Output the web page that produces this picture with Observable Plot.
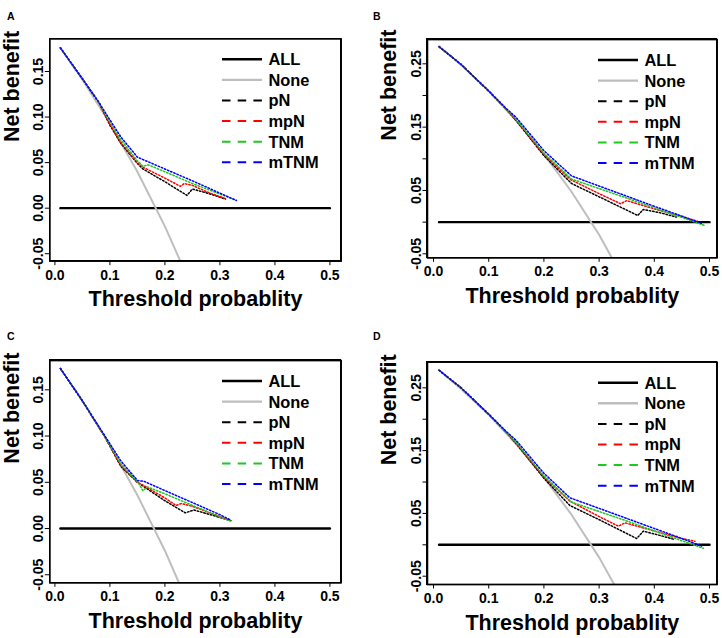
<!DOCTYPE html>
<html>
<head>
<meta charset="utf-8">
<script src="https://cdn.jsdelivr.net/npm/d3@7"></script>
<script src="https://cdn.jsdelivr.net/npm/@observablehq/plot@0.6"></script>
<style>
  body { margin: 0; background: #fff; }
  #wrap { position: relative; width: 722px; height: 638px; font-family: "Liberation Sans", Arial, sans-serif; }
  .panel { position: absolute; width: 361px; height: 319px; }
  .letter { position: absolute; font-weight: bold; font-size: 10.5px; line-height: 1; }
  .box { position: absolute; box-sizing: border-box; border: 1.3px solid #000; background: transparent; pointer-events: none; }
</style>
</head>
<body>
<div id="wrap"></div>
<script>
// ---------- shared ----------
const seriesNames = ["pN", "mpN", "TNM", "mTNM"];
const seriesColors = ["#000000", "#ff0000", "#1ec81e", "#0000ff"];
const legendNames = ["ALL", "None", "pN", "mpN", "TNM", "mTNM"];
const xTicks = [0, 0.1, 0.2, 0.3, 0.4, 0.5];
const xTickLabels = ["0.0", "0.1", "0.2", "0.3", "0.4", "0.5"];
const ALL_x = [0.01, 0.5];
const ALL_y = [0, 0];

// ---------- panel A ----------
const A_yTicks = [-0.05, 0, 0.05, 0.10, 0.15];
const A_yLabels = ["-0.05", "0.00", "0.05", "0.10", "0.15"];
const A_none_x = [0.01, 0.05, 0.10, 0.15, 0.20, 0.25];
const A_none_y = [0.176, 0.141, 0.093, 0.040, -0.020, -0.088];
const A_pN_x = [0.01, 0.05, 0.08, 0.10, 0.12, 0.15, 0.16, 0.20, 0.24, 0.25, 0.28, 0.31];
const A_pN_y = [0.176, 0.142, 0.116, 0.091, 0.071, 0.049, 0.043, 0.029, 0.014, 0.021, 0.016, 0.010];
const A_mpN_x = [0.01, 0.05, 0.08, 0.10, 0.12, 0.15, 0.16, 0.20, 0.228, 0.235, 0.25, 0.28, 0.31];
const A_mpN_y = [0.176, 0.142, 0.116, 0.092, 0.072, 0.050, 0.045, 0.033, 0.024, 0.027, 0.025, 0.017, 0.0105];
const A_TNM_x = [0.01, 0.05, 0.08, 0.10, 0.12, 0.15, 0.16, 0.17, 0.20, 0.25, 0.30, 0.33];
const A_TNM_y = [0.176, 0.142, 0.116, 0.095, 0.075, 0.052, 0.046, 0.0475, 0.040, 0.027, 0.0155, 0.0085];
const A_mTNM_x = [0.01, 0.05, 0.08, 0.10, 0.12, 0.15, 0.20, 0.25, 0.30, 0.33];
const A_mTNM_y = [0.176, 0.142, 0.116, 0.097, 0.078, 0.056, 0.043, 0.030, 0.0165, 0.0085];

// ---------- panel B ----------
const B_yTicks = [-0.05, 0, 0.05, 0.10, 0.15, 0.20, 0.25];
const B_yLabels = ["-0.05", "", "0.05", "", "0.15", "", "0.25"];
const B_none_x = [0.01, 0.05, 0.10, 0.15, 0.20, 0.25, 0.30, 0.35];
const B_none_y = [0.278, 0.248, 0.207, 0.160, 0.1075, 0.048, -0.020, -0.099];
const B_pN_x = [0.01, 0.05, 0.10, 0.13, 0.15, 0.20, 0.25, 0.30, 0.35, 0.37, 0.38, 0.41, 0.44];
const B_pN_y = [0.277, 0.249, 0.207, 0.180, 0.160, 0.105, 0.061, 0.040, 0.019, 0.0105, 0.020, 0.015, 0.008];
const B_mpN_x = [0.01, 0.05, 0.10, 0.13, 0.15, 0.20, 0.2485, 0.30, 0.339, 0.35, 0.40, 0.45, 0.478];
const B_mpN_y = [0.277, 0.249, 0.207, 0.180, 0.161, 0.107, 0.067, 0.045, 0.029, 0.034, 0.021, 0.0087, 0.0016];
const B_TNM_x = [0.01, 0.05, 0.10, 0.13, 0.15, 0.20, 0.25, 0.30, 0.35, 0.40, 0.45, 0.49];
const B_TNM_y = [0.277, 0.249, 0.207, 0.180, 0.162, 0.109, 0.068, 0.053, 0.038, 0.0225, 0.0075, -0.005];
const B_mTNM_x = [0.01, 0.05, 0.10, 0.13, 0.15, 0.20, 0.25, 0.30, 0.35, 0.40, 0.45, 0.485];
const B_mTNM_y = [0.277, 0.249, 0.207, 0.181, 0.165, 0.113, 0.073, 0.057, 0.041, 0.025, 0.0095, -0.002];

// ---------- panel C ----------
const C_yTicks = [-0.05, 0, 0.05, 0.10, 0.15];
const C_yLabels = ["-0.05", "0.00", "0.05", "0.10", "0.15"];
const C_none_x = [0.01, 0.05, 0.10, 0.15, 0.20, 0.25];
const C_none_y = [0.173, 0.138, 0.090, 0.036, -0.024, -0.092];
const C_pN_x = [0.01, 0.05, 0.09, 0.12, 0.15, 0.16, 0.20, 0.237, 0.253, 0.30, 0.32];
const C_pN_y = [0.173, 0.138, 0.100, 0.067, 0.050, 0.046, 0.030, 0.017, 0.020, 0.012, 0.0085];
const C_mpN_x = [0.01, 0.05, 0.09, 0.12, 0.15, 0.16, 0.20, 0.22, 0.23, 0.25, 0.30, 0.32];
const C_mpN_y = [0.173, 0.138, 0.100, 0.068, 0.050, 0.047, 0.033, 0.025, 0.027, 0.024, 0.013, 0.009];
const C_TNM_x = [0.01, 0.05, 0.09, 0.12, 0.15, 0.16, 0.168, 0.20, 0.25, 0.30, 0.32];
const C_TNM_y = [0.173, 0.138, 0.100, 0.070, 0.051, 0.041, 0.045, 0.0375, 0.025, 0.0125, 0.008];
const C_mTNM_x = [0.01, 0.05, 0.09, 0.12, 0.15, 0.162, 0.20, 0.25, 0.30, 0.32];
const C_mTNM_y = [0.173, 0.138, 0.101, 0.073, 0.052, 0.051, 0.041, 0.028, 0.015, 0.009];

// ---------- panel D ----------
const D_yTicks = [-0.05, 0, 0.05, 0.10, 0.15, 0.20, 0.25];
const D_yLabels = ["-0.05", "", "0.05", "", "0.15", "", "0.25"];
const D_none_x = [0.01, 0.05, 0.10, 0.15, 0.20, 0.25, 0.30, 0.35];
const D_none_y = [0.278, 0.248, 0.207, 0.160, 0.1075, 0.048, -0.020, -0.099];
const D_pN_x = [0.01, 0.05, 0.10, 0.13, 0.15, 0.20, 0.247, 0.30, 0.35, 0.368, 0.38, 0.41, 0.437];
const D_pN_y = [0.278, 0.250, 0.208, 0.181, 0.161, 0.106, 0.0626, 0.040, 0.018, 0.010, 0.0217, 0.015, 0.0084];
const D_mpN_x = [0.01, 0.05, 0.10, 0.13, 0.15, 0.20, 0.247, 0.30, 0.335, 0.347, 0.40, 0.45, 0.4735];
const D_mpN_y = [0.278, 0.250, 0.208, 0.181, 0.162, 0.108, 0.0696, 0.045, 0.0296, 0.035, 0.022, 0.010, 0.0057];
const D_TNM_x = [0.01, 0.05, 0.10, 0.13, 0.15, 0.20, 0.25, 0.30, 0.35, 0.40, 0.45, 0.4886];
const D_TNM_y = [0.278, 0.250, 0.208, 0.181, 0.163, 0.110, 0.068, 0.053, 0.038, 0.022, 0.0065, -0.0054];
const D_mTNM_x = [0.01, 0.05, 0.10, 0.13, 0.15, 0.20, 0.247, 0.30, 0.35, 0.40, 0.45, 0.4855];
const D_mTNM_y = [0.278, 0.250, 0.208, 0.182, 0.166, 0.114, 0.0749, 0.058, 0.042, 0.026, 0.010, -0.002];

// ---------- layout ----------
const panels = [
  {letter: "A", left: 0, top: 0, mL: 49.3, mR: 20.3, mT: 38.3, mB: 58.3,
   xd: [-0.0093, 0.5205], yd: [-0.0582, 0.1859], yTicks: A_yTicks, yLabels: A_yLabels,
   none: [A_none_x, A_none_y], series: [[A_pN_x, A_pN_y], [A_mpN_x, A_mpN_y], [A_TNM_x, A_TNM_y], [A_mTNM_x, A_mTNM_y]]},
  {letter: "B", left: 361, top: 0, mL: 66, mR: 5.3, mT: 39, mB: 61.7,
   xd: [-0.0109, 0.5139], yd: [-0.0563, 0.2884], yTicks: B_yTicks, yLabels: B_yLabels,
   none: [B_none_x, B_none_y], series: [[B_pN_x, B_pN_y], [B_mpN_x, B_mpN_y], [B_TNM_x, B_TNM_y], [B_mTNM_x, B_mTNM_y]]},
  {letter: "C", left: 0, top: 319, mL: 49.3, mR: 20.3, mT: 41, mB: 55.7,
   xd: [-0.0093, 0.5205], yd: [-0.0587, 0.1817], yTicks: C_yTicks, yLabels: C_yLabels,
   none: [C_none_x, C_none_y], series: [[C_pN_x, C_pN_y], [C_mpN_x, C_mpN_y], [C_TNM_x, C_TNM_y], [C_mTNM_x, C_mTNM_y]]},
  {letter: "D", left: 361, top: 319, mL: 66, mR: 5.3, mT: 42.7, mB: 54,
   xd: [-0.0109, 0.5139], yd: [-0.0632, 0.2908], yTicks: D_yTicks, yLabels: D_yLabels,
   none: [D_none_x, D_none_y], series: [[D_pN_x, D_pN_y], [D_mpN_x, D_mpN_y], [D_TNM_x, D_TNM_y], [D_mTNM_x, D_mTNM_y]]}
];

const W = 361, H = 319;
const toPts = (xs, ys) => xs.map((x, i) => ({x, y: ys[i]}));
const wrap = document.getElementById("wrap");

panels.forEach((p) => {
  const div = document.createElement("div");
  div.className = "panel";
  div.style.left = p.left + "px";
  div.style.top = p.top + "px";
  wrap.appendChild(div);

  const yLabelMap = new Map(p.yTicks.map((t, i) => [t.toFixed(2), p.yLabels[i]]));
  const xLabelMap = new Map(xTicks.map((t, i) => [t.toFixed(1), xTickLabels[i]]));
  const box = [
    {x: p.xd[0], y: p.yd[0]}, {x: p.xd[1], y: p.yd[0]}, {x: p.xd[1], y: p.yd[1]},
    {x: p.xd[0], y: p.yd[1]}, {x: p.xd[0], y: p.yd[0]}
  ];

  const chart = Plot.plot({
    width: W, height: H,
    marginLeft: p.mL, marginRight: p.mR, marginTop: p.mT, marginBottom: p.mB,
    x: {domain: p.xd},
    y: {domain: p.yd},
    style: {background: "transparent", color: "#000", fontFamily: "'Liberation Sans', Arial, sans-serif", overflow: "visible"},
    marks: [
      Plot.axisX({ticks: xTicks, tickSize: 4.5, tickPadding: 4,
        tickFormat: (d) => xLabelMap.get((+d).toFixed(1)), fontSize: 14, fontWeight: "bold", label: null}),
      Plot.axisY({ticks: p.yTicks, tickSize: 4.5, tickPadding: 2, tickRotate: -90,
        tickFormat: (d) => yLabelMap.get((+d).toFixed(2)), fontSize: 14, fontWeight: "bold", label: null}),
      Plot.line(toPts(ALL_x, ALL_y), {x: "x", y: "y", stroke: "#000", strokeWidth: 2.4}),
      Plot.line(toPts(p.none[0], p.none[1]), {x: "x", y: "y", stroke: "#bebebe", strokeWidth: 2, clip: true}),
      ...p.series.map(([xs, ys], i) =>
        Plot.line(toPts(xs, ys), {x: "x", y: "y", stroke: seriesColors[i], strokeWidth: 1.5,
          strokeDasharray: "1.5,1.9", clip: true})),
      Plot.line(box, {x: "x", y: "y", stroke: "#000", strokeWidth: 1.3, strokeLinejoin: "miter", strokeLinecap: "square"}),
      Plot.frame({stroke: "#000", strokeWidth: 1.3}),
      Plot.text(["Net benefit"], {frameAnchor: "left", rotate: -90, dx: -38, dy: -8,
        fontSize: 21.5, fontWeight: "bold", fill: "#000"}),
      Plot.text(["Threshold probablity"], {frameAnchor: "bottom", dy: 45,
        fontSize: 21.5, fontWeight: "bold", fill: "#000"})
    ]
  });
  div.appendChild(chart);

  // legend, drawn into the same svg
  const frameRight = W - p.mR;
  const lx = frameRight - 118.7;
  const ly = p.mT + 21;
  const rowH = 20.6;
  const legendColors = ["#000000", "#bebebe", ...seriesColors];
  const g = d3.select(chart).append("g").attr("aria-label", "legend");
  legendNames.forEach((name, i) => {
    const y = ly + i * rowH;
    g.append("line")
      .attr("x1", lx).attr("x2", lx + 40).attr("y1", y).attr("y2", y)
      .attr("stroke", legendColors[i])
      .attr("stroke-width", i < 2 ? 2.4 : 2)
      .attr("stroke-dasharray", i < 2 ? null : "8.5,7.2");
    g.append("text")
      .attr("x", lx + 46.5).attr("y", y).attr("dy", "0.36em")
      .attr("text-anchor", "start")
      .attr("font-size", 16.4).attr("font-weight", "bold")
      .attr("fill", "#000")
      .text(name);
  });

  // plot box outline as an overlay (same rectangle as the Plot frame)
  const bx = document.createElement("div");
  bx.className = "box";
  bx.style.left = (p.mL - 0.65) + "px";
  bx.style.top = (p.mT - 0.65) + "px";
  bx.style.width = (W - p.mL - p.mR + 1.3) + "px";
  bx.style.height = (H - p.mT - p.mB + 1.3) + "px";
  div.appendChild(bx);

  // panel letter
  const lt = document.createElement("div");
  lt.className = "letter";
  lt.textContent = p.letter;
  lt.style.left = (p.letter === "A" || p.letter === "C" ? 7 : 12) + "px";
  lt.style.top = (p.letter === "A" || p.letter === "B" ? 11 : 12) + "px";
  div.appendChild(lt);
});
</script>
</body>
</html>
